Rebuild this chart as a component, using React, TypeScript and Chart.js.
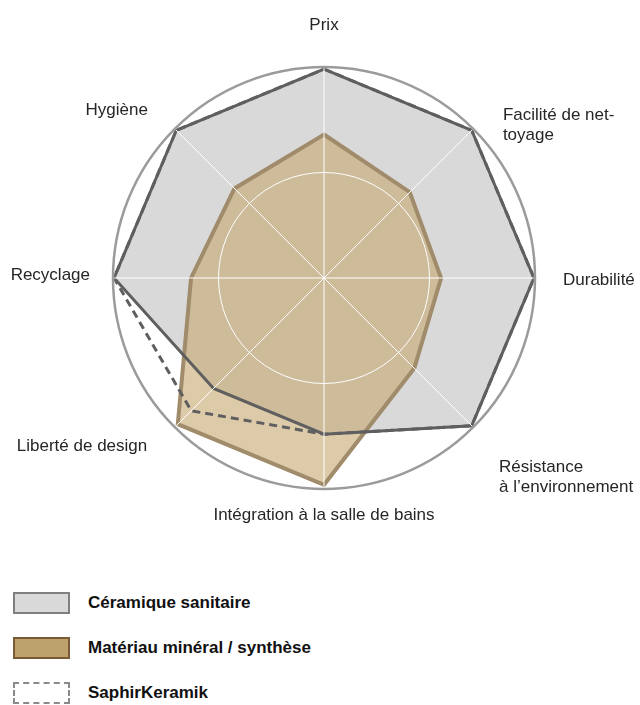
import React, { useEffect, useRef } from "react";
import { Chart, registerables } from "chart.js";

Chart.register(...registerables);

// ---- data ----
const categories: (string | string[])[] = [
  "Prix",
  ["Facilité de net-", "toyage"],
  "Durabilité",
  ["Résistance", "à l’environnement"],
  "Intégration à la salle de bains",
  "Liberté de design",
  "Recyclage",
  "Hygiène",
];
const ceramique = [9.9, 9.9, 9.95, 9.9, 7.4, 7.4, 9.95, 9.9];
const materiau = [6.8, 5.75, 5.55, 6.05, 9.8, 9.8, 6.3, 6.0];
const saphir = [9.9, 9.9, 9.95, 9.9, 7.4, 8.9, 9.95, 9.9];
const scaleMin = 0;
const scaleMax = 10;
const scaleStep = 5;

const seriesNames = ["Céramique sanitaire", "Matériau minéral / synthèse", "SaphirKeramik"];

// ---- label layout (px beyond outer ring, alignment, baseline shift) ----
const labelPlacement = [
  { pad: 37, align: "center", shift: 0 },
  { pad: 42, align: "left", shift: 21 },
  { pad: 28, align: "left", shift: 7 },
  { pad: 36.5, align: "left", shift: 19 },
  { pad: 15, align: "center", shift: 16 },
  { pad: 39, align: "right", shift: -4 },
  { pad: 23, align: "right", shift: 2 },
  { pad: 38, align: "right", shift: 13 },
];

const legendStyles = [
  { fill: "#d9d9d9", border: "2px solid #7f7f7f" },
  { fill: "#bea26e", border: "2px solid #7a5b35" },
  { fill: "#ffffff", border: "2px dashed #8a8a8a" },
];

const LABEL_FONT = '17px "Liberation Sans", Arial, Helvetica, sans-serif';

const labelPlugin = {
  id: "customRadarLabels",
  afterDraw(chart: any) {
    const scale = chart.scales.r;
    const ctx = chart.ctx;
    const R = scale.getDistanceFromCenterForValue(scaleMax);
    ctx.save();
    ctx.beginPath();
    ctx.arc(scale.xCenter, scale.yCenter, R, 0, Math.PI * 2);
    ctx.strokeStyle = "#9b9b9b";
    ctx.lineWidth = 2.5;
    ctx.stroke();
    ctx.font = LABEL_FONT;
    ctx.fillStyle = "#262626";
    ctx.textBaseline = "alphabetic";
    categories.forEach((lab, i) => {
      const p = labelPlacement[i];
      const pos = scale.getPointPosition(i, R + p.pad);
      const lines = Array.isArray(lab) ? lab : [lab];
      ctx.textAlign = p.align;
      lines.forEach((ln, j) => ctx.fillText(ln, pos.x, pos.y + p.shift + j * 20));
    });
    ctx.restore();
  },
};

export default function App() {
  const canvasRef = useRef<HTMLCanvasElement | null>(null);

  useEffect(() => {
    if (!canvasRef.current) return;
    const chart = new Chart(canvasRef.current, {
      type: "radar",
      data: {
        labels: categories as any,
        datasets: [
          {
            label: seriesNames[0] + " (fond)",
            data: ceramique,
            backgroundColor: "#d9d9d9",
            borderColor: "rgba(0,0,0,0)",
            borderWidth: 0,
            fill: true,
            order: 4,
            pointRadius: 0,
          },
          {
            label: seriesNames[1],
            data: materiau,
            backgroundColor: "rgba(197,167,112,0.6)",
            borderColor: "#a08b6b",
            borderWidth: 4,
            borderJoinStyle: "miter",
            fill: true,
            order: 3,
            pointRadius: 0,
          },
          {
            label: seriesNames[0],
            data: ceramique,
            backgroundColor: "rgba(0,0,0,0)",
            borderColor: "#5f5f5f",
            borderWidth: 3,
            borderJoinStyle: "miter",
            fill: false,
            order: 2,
            pointRadius: 0,
          },
          {
            label: seriesNames[2],
            data: saphir,
            backgroundColor: "rgba(0,0,0,0)",
            borderColor: "#5f5f5f",
            borderWidth: 3,
            borderDash: [8, 5],
            borderJoinStyle: "miter",
            fill: false,
            order: 1,
            pointRadius: 0,
          },
        ],
      },
      options: {
        responsive: false,
        devicePixelRatio: 1,
        animation: false,
        events: [],
        layout: { padding: { left: 113, right: 105, top: 67, bottom: 71 } },
        plugins: {
          legend: { display: false },
          tooltip: { enabled: false },
        },
        scales: {
          r: {
            min: scaleMin,
            max: scaleMax,
            z: 1,
            ticks: { display: false, stepSize: scaleStep, z: 1 },
            pointLabels: { display: false },
            grid: {
              circular: true,
              z: 1,
              color: (c: any) => (c.tick && c.tick.value === scaleMax ? "rgba(0,0,0,0)" : "#ffffff"),
              lineWidth: 1,
            },
            angleLines: { color: "#ffffff", lineWidth: 1 },
          },
        },
      } as any,
      plugins: [labelPlugin],
    });
    return () => chart.destroy();
  }, []);

  return (
    <div style={{ position: "absolute", left: 0, top: 0, width: 640, height: 705, overflow: "hidden", background: "#fff" }}>
      <canvas ref={canvasRef} width={640} height={560} style={{ position: "absolute", left: 0, top: 0 }} />
      {seriesNames.map((name, i) => (
        <div
          key={name}
          style={{
            position: "absolute",
            left: 13,
            top: 592 + i * 45,
            height: 22,
            display: "flex",
            alignItems: "center",
          }}
        >
          <div
            style={{
              width: 57,
              height: 22,
              boxSizing: "border-box",
              background: legendStyles[i].fill,
              border: legendStyles[i].border,
            }}
          />
          <span
            style={{
              marginLeft: 18,
              font: 'bold 17px "Liberation Sans", Arial, Helvetica, sans-serif',
              color: "#111",
              whiteSpace: "nowrap",
            }}
          >
            {name}
          </span>
        </div>
      ))}
    </div>
  );
}
